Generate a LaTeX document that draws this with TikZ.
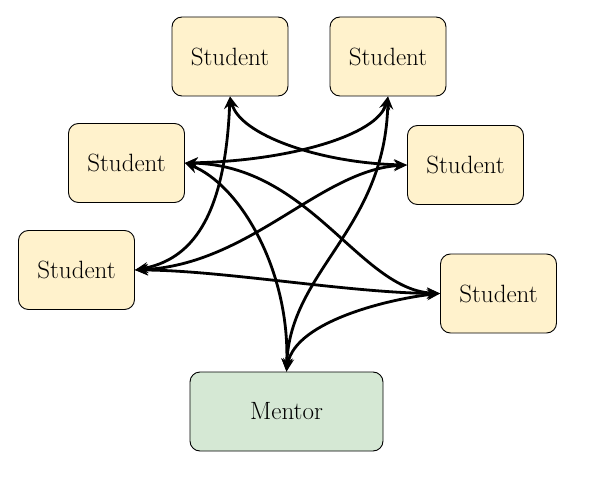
\documentclass[tikz,border=0pt]{standalone}
\usepackage{tikz}
\usetikzlibrary{arrows.meta}
\definecolor{studentfill}{RGB}{255,242,204}
\definecolor{mentorfill}{RGB}{213,232,212}

\begin{document}
\begin{tikzpicture}[x=1pt, y=-1pt,
    studentbox/.style={draw, line width=0.9pt, rounded corners=10pt, fill=studentfill,
      minimum width=116pt, minimum height=79pt, font=\fontsize{25}{29}\selectfont},
    mentorbox/.style={studentbox, fill=mentorfill, minimum width=193pt},
    link/.style={line width=2.8pt, {Stealth[length=13pt,width=11pt,inset=4.5pt]}-{Stealth[length=13pt,width=11pt,inset=4.5pt]}}]
  \useasboundingbox (0,0) rectangle (589,492);
  % boxes
  \node[studentbox] (tl) at (230,56.5) {Student};
  \node[studentbox] (tr) at (388,56.5) {Student};
  \node[studentbox] (ml) at (126.5,163) {Student};
  \node[studentbox] (mr) at (465.5,165) {Student};
  \node[studentbox] (bl) at (76.5,270) {Student};
  \node[studentbox] (br) at (498.5,293.5) {Student};
  \node[mentorbox] (mentor) at (286.5,411.5) {Mentor};
  % links
  \draw[link] (tl.south) .. controls (225,220) and (190,260) .. (bl.east);
  \draw[link] (tl.south) .. controls (240,135) and (320,163) .. (mr.west);
  \draw[link] (tr.south) .. controls (378,135) and (290,161) .. (ml.east);
  \draw[link] (tr.south) .. controls (385,230) and (290,270) .. (mentor.north);
  \draw[link] (ml.east) .. controls (240,185) and (290,270) .. (mentor.north);
  \draw[link] (ml.east) .. controls (310,165) and (360,290) .. (br.west);
  \draw[link] (mr.west) .. controls (320,170) and (250,265) .. (bl.east);
  \draw[link] (bl.east) .. controls (220,270) and (350,293) .. (br.west);
  \draw[link] (br.west) .. controls (395,298) and (295,320) .. (mentor.north);
\end{tikzpicture}
\end{document}
